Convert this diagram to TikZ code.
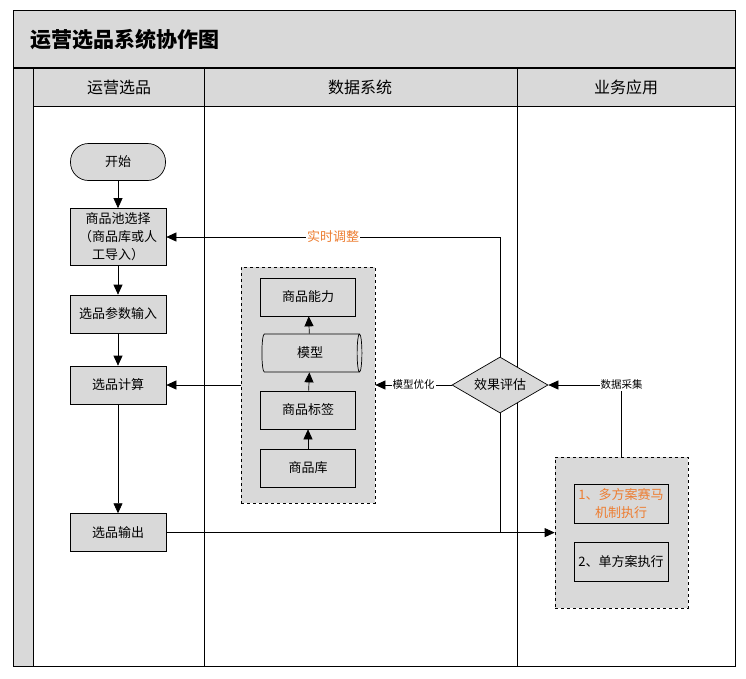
\documentclass[tikz,border=0pt]{standalone}
\usepackage{fontspec}
\setmainfont{Noto Sans CJK SC}
\usetikzlibrary{arrows.meta,shapes.geometric}
\definecolor{lanegray}{RGB}{217,217,217}
\definecolor{tuneorange}{RGB}{237,125,49}

\begin{document}
\begin{tikzpicture}[x=1pt,y=-1pt,line width=0.7pt,font=\fontsize{13}{18}\selectfont,
  box/.style={draw,fill=lanegray,minimum width=96pt,minimum height=38pt,align=center,inner sep=2pt},
  sbox/.style={box,minimum width=95pt},
  grp/.style={draw,dashed,fill=lanegray},
  term/.style={box,rounded corners=18pt,minimum width=95pt,minimum height=37pt},
  cyl/.style={draw,fill=lanegray,cylinder,aspect=0.3,minimum width=38pt,minimum height=100pt,inner sep=2pt},
  dec/.style={draw,fill=lanegray,diamond,aspect=1.7,minimum width=96pt,minimum height=56pt,inner sep=1pt},
  hd/.style={font=\fontsize{16}{18}\selectfont},
  ed/.style={-{Triangle[length=10pt,width=9pt]}},
  lb/.style={fill=white,inner sep=1pt,font=\fontsize{10.5}{12}\selectfont}]
\useasboundingbox (0,0) rectangle (746,678);
\fill[lanegray] (13,10) rectangle (735,68);
\fill[lanegray] (13,68) rectangle (33,666);
\fill[lanegray] (33,68) rectangle (735,106);
\draw (13,10) rectangle (735,666);
\draw[line width=1.8pt] (13,68) -- (735,68);
\draw (33,68) -- (33,666);
\draw (204,68) -- (204,666);
\draw (517,68) -- (517,666);
\draw (33,106) -- (735,106);
\node[anchor=west,font=\fontsize{21}{24}\selectfont\bfseries] (title) at (27,40) {运营选品系统协作图};
\node[hd] (h1) at (119,87) {运营选品};
\node[hd] (h2) at (360,87) {数据系统};
\node[hd] (h3) at (626,87) {业务应用};
\node[term] (start) at (118,162) {开始};
\node[box,minimum height=57pt] (pool) at (118,237) {商品池选择\\（商品库或人\\工导入）};
\node[box] (par) at (118,314) {选品参数输入};
\node[box] (calc) at (118,385) {选品计算};
\node[box] (out) at (118,532.6) {选品输出};
\node[grp,minimum width=134pt,minimum height=236pt] (dsys) at (308,385) {};
\node[sbox] (cap) at (308,297) {商品能力};
\node[cyl] (mdl) at (310,353) {模型};
\node[sbox] (tag) at (308,410) {商品标签};
\node[sbox] (lib) at (308,468) {商品库};
\node[dec] (eval) at (500,385) {效果评估};
\node[grp,minimum width=133pt,minimum height=151pt] (exec) at (621.5,532.6) {};
\node[box,minimum width=94pt,minimum height=39pt,text=tuneorange] (race) at (621,503.5) {1、多方案赛马\\机制执行};
\node[box,minimum width=94pt,minimum height=39pt] (single) at (621,561.5) {2、单方案执行};
\draw[ed] (start) -- (pool);
\draw[ed] (pool) -- (par);
\draw[ed] (par) -- (calc);
\draw[ed] (calc) -- (out);
\draw[ed] (lib) -- (tag);
\draw[ed] (tag) -- (mdl);
\draw[ed] (mdl) -- (cap);
\draw[ed] (dsys.west) -- (calc.east);
\draw[ed] (eval.north) |- node[pos=.75,fill=white,inner sep=1pt,text=tuneorange]{实时调整} (pool.east);
\draw[ed] (eval.west) -- node[lb]{模型优化} (dsys.east);
\draw[ed] (exec.north) |- node[lb,pos=.5]{数据采集} (eval.east);
\draw (eval.south) -- (eval.south |- out.east);
\draw[ed] (out.east) -- (exec.west);
\end{tikzpicture}
\end{document}
